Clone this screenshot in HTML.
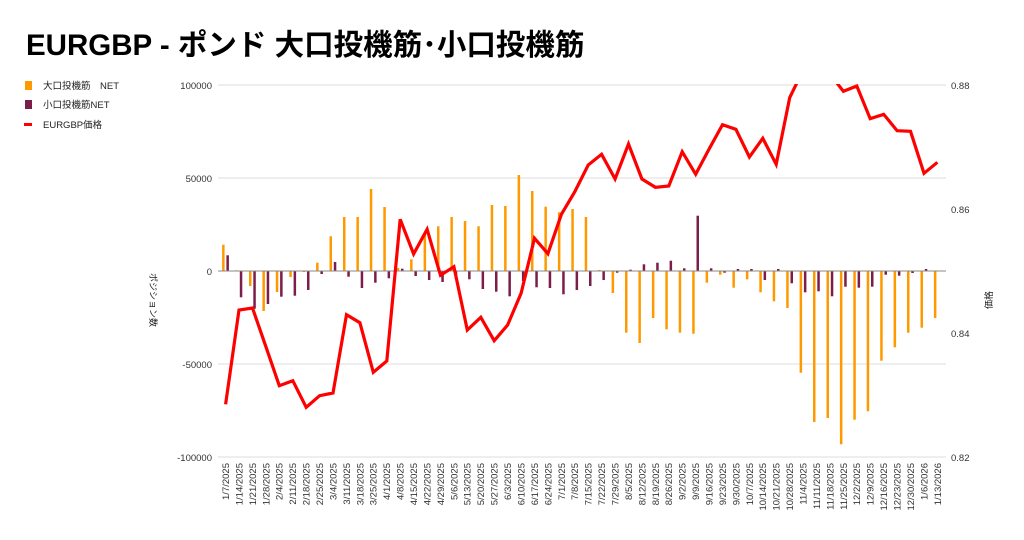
<!DOCTYPE html>
<html><head><meta charset="utf-8"><style>
html,body{margin:0;padding:0;background:#fff;}
svg{display:block;font-family:"Liberation Sans","Noto Sans CJK JP",sans-serif;}
</style></head><body>
<svg width="1024" height="540" viewBox="0 0 1024 540" xmlns="http://www.w3.org/2000/svg">
<rect width="1024" height="540" fill="#fff"/>
<text x="26" y="55" font-size="29.5" font-weight="bold" fill="#000">EURGBP - ポンド 大口投機筋･小口投機筋</text>
<!-- legend -->
<rect x="25" y="81" width="7" height="9" fill="#ff9900"/>
<text x="43" y="89" font-size="9.5" fill="#222">大口投機筋　NET</text>
<rect x="25" y="100" width="7" height="9" fill="#7b1f4a"/>
<text x="43" y="108" font-size="9.5" fill="#222">小口投機筋NET</text>
<rect x="24" y="123" width="8" height="3" fill="#ff0000"/>
<text x="43" y="128" font-size="9.5" fill="#222">EURGBP価格</text>
<!-- grid -->
<g stroke="#dcdcdc" stroke-width="1">
<line x1="218" y1="85" x2="946" y2="85"/>
<line x1="218" y1="178" x2="946" y2="178"/>
<line x1="218" y1="364" x2="946" y2="364"/>
<line x1="218" y1="457" x2="946" y2="457"/>
</g>
<g font-size="9.5" fill="#333" text-anchor="end">
<text x="212" y="89">100000</text>
<text x="212" y="182">50000</text>
<text x="212" y="275">0</text>
<text x="212" y="368">-50000</text>
<text x="212" y="461">-100000</text>
</g>
<g font-size="9.5" fill="#333">
<text x="951" y="89">0.88</text>
<text x="951" y="213">0.86</text>
<text x="951" y="337">0.84</text>
<text x="951" y="461">0.82</text>
</g>
<text transform="translate(150,300) rotate(90)" font-size="9" fill="#222" text-anchor="middle">ポジション数</text>
<text transform="translate(992,300) rotate(-90)" font-size="9" fill="#222" text-anchor="middle">価格</text>
<!-- orange bars -->
<g fill="#ff9900">
<rect x="222.1" y="244.7" width="2.5" height="26.3"/>
<rect x="235.5" y="270.3" width="2.5" height="0.7"/>
<rect x="249" y="271" width="2.5" height="15"/>
<rect x="262.4" y="271" width="2.5" height="40"/>
<rect x="275.8" y="271" width="2.5" height="21"/>
<rect x="289.3" y="271" width="2.5" height="6"/>
<rect x="302.7" y="271" width="2.5" height="1"/>
<rect x="316.1" y="262.7" width="2.5" height="8.3"/>
<rect x="329.5" y="236.3" width="2.5" height="34.7"/>
<rect x="343" y="217" width="2.5" height="54"/>
<rect x="356.4" y="217" width="2.5" height="54"/>
<rect x="369.8" y="189" width="2.5" height="82"/>
<rect x="383.3" y="207" width="2.5" height="64"/>
<rect x="396.7" y="268" width="2.5" height="3"/>
<rect x="410.1" y="259.3" width="2.5" height="11.7"/>
<rect x="423.6" y="235" width="2.5" height="36"/>
<rect x="437" y="226.3" width="2.5" height="44.7"/>
<rect x="450.4" y="217" width="2.5" height="54"/>
<rect x="463.8" y="221" width="2.5" height="50"/>
<rect x="477.3" y="226.3" width="2.5" height="44.7"/>
<rect x="490.7" y="205" width="2.5" height="66"/>
<rect x="504.1" y="206" width="2.5" height="65"/>
<rect x="517.6" y="175" width="2.5" height="96"/>
<rect x="531" y="191" width="2.5" height="80"/>
<rect x="544.4" y="206.7" width="2.5" height="64.3"/>
<rect x="557.9" y="212.3" width="2.5" height="58.7"/>
<rect x="571.3" y="209" width="2.5" height="62"/>
<rect x="584.7" y="217" width="2.5" height="54"/>
<rect x="598.1" y="270" width="2.5" height="1"/>
<rect x="611.6" y="271" width="2.5" height="22"/>
<rect x="625" y="271" width="2.5" height="61.7"/>
<rect x="638.4" y="271" width="2.5" height="72"/>
<rect x="651.9" y="271" width="2.5" height="47"/>
<rect x="665.3" y="271" width="2.5" height="58.3"/>
<rect x="678.7" y="271" width="2.5" height="61.7"/>
<rect x="692.2" y="271" width="2.5" height="62.7"/>
<rect x="705.6" y="271" width="2.5" height="11.7"/>
<rect x="719" y="271" width="2.5" height="3.7"/>
<rect x="732.4" y="271" width="2.5" height="16.7"/>
<rect x="745.9" y="271" width="2.5" height="8.3"/>
<rect x="759.3" y="271" width="2.5" height="21.3"/>
<rect x="772.7" y="271" width="2.5" height="30.3"/>
<rect x="786.2" y="271" width="2.5" height="37"/>
<rect x="799.6" y="271" width="2.5" height="101.7"/>
<rect x="813" y="271" width="2.5" height="151"/>
<rect x="826.5" y="271" width="2.5" height="147"/>
<rect x="839.9" y="271" width="2.5" height="173.3"/>
<rect x="853.3" y="271" width="2.5" height="148.7"/>
<rect x="866.7" y="271" width="2.5" height="140.3"/>
<rect x="880.2" y="271" width="2.5" height="89.7"/>
<rect x="893.6" y="271" width="2.5" height="76.3"/>
<rect x="907" y="271" width="2.5" height="61.7"/>
<rect x="920.5" y="271" width="2.5" height="56.7"/>
<rect x="933.9" y="271" width="2.5" height="47"/>
</g>
<!-- purple bars -->
<g fill="#7b1f4a">
<rect x="226.4" y="255.3" width="2.5" height="15.7"/>
<rect x="239.8" y="271" width="2.5" height="26.3"/>
<rect x="253.3" y="271" width="2.5" height="37.7"/>
<rect x="266.7" y="271" width="2.5" height="33"/>
<rect x="280.1" y="271" width="2.5" height="25.7"/>
<rect x="293.6" y="271" width="2.5" height="24.7"/>
<rect x="307" y="271" width="2.5" height="19"/>
<rect x="320.4" y="271" width="2.5" height="3"/>
<rect x="333.8" y="262" width="2.5" height="9"/>
<rect x="347.3" y="271" width="2.5" height="5.7"/>
<rect x="360.7" y="271" width="2.5" height="17"/>
<rect x="374.1" y="271" width="2.5" height="11.7"/>
<rect x="387.6" y="271" width="2.5" height="7.3"/>
<rect x="401" y="268.7" width="2.5" height="2.3"/>
<rect x="414.4" y="271" width="2.5" height="5"/>
<rect x="427.9" y="271" width="2.5" height="9"/>
<rect x="441.3" y="271" width="2.5" height="11"/>
<rect x="454.7" y="271" width="2.5" height="8"/>
<rect x="468.1" y="271" width="2.5" height="8.3"/>
<rect x="481.6" y="271" width="2.5" height="18"/>
<rect x="495" y="271" width="2.5" height="20.7"/>
<rect x="508.4" y="271" width="2.5" height="25.3"/>
<rect x="521.9" y="271" width="2.5" height="10"/>
<rect x="535.3" y="271" width="2.5" height="16.3"/>
<rect x="548.7" y="271" width="2.5" height="17"/>
<rect x="562.2" y="271" width="2.5" height="23.3"/>
<rect x="575.6" y="271" width="2.5" height="19"/>
<rect x="589" y="271" width="2.5" height="15"/>
<rect x="602.4" y="271" width="2.5" height="9"/>
<rect x="615.9" y="271" width="2.5" height="1.7"/>
<rect x="629.3" y="269.7" width="2.5" height="1.3"/>
<rect x="642.7" y="264.3" width="2.5" height="6.7"/>
<rect x="656.2" y="262.7" width="2.5" height="8.3"/>
<rect x="669.6" y="260.7" width="2.5" height="10.3"/>
<rect x="683" y="268.3" width="2.5" height="2.7"/>
<rect x="696.5" y="215.7" width="2.5" height="55.3"/>
<rect x="709.9" y="268.3" width="2.5" height="2.7"/>
<rect x="723.3" y="271" width="2.5" height="1.7"/>
<rect x="736.7" y="269" width="2.5" height="2"/>
<rect x="750.2" y="269" width="2.5" height="2"/>
<rect x="763.6" y="271" width="2.5" height="9"/>
<rect x="777" y="269" width="2.5" height="2"/>
<rect x="790.5" y="271" width="2.5" height="12.3"/>
<rect x="803.9" y="271" width="2.5" height="21.3"/>
<rect x="817.3" y="271" width="2.5" height="20.3"/>
<rect x="830.8" y="271" width="2.5" height="25.3"/>
<rect x="844.2" y="271" width="2.5" height="15.7"/>
<rect x="857.6" y="271" width="2.5" height="16.7"/>
<rect x="871" y="271" width="2.5" height="15.7"/>
<rect x="884.5" y="271" width="2.5" height="3.7"/>
<rect x="897.9" y="271" width="2.5" height="4.7"/>
<rect x="911.3" y="271" width="2.5" height="2"/>
<rect x="924.8" y="269" width="2.5" height="2"/>
</g>
<line x1="218" y1="271" x2="946" y2="271" stroke="#888" stroke-width="1"/>
<defs><clipPath id="c"><rect x="210" y="84" width="745" height="380"/></clipPath></defs>
<polyline clip-path="url(#c)" fill="none" stroke="#ff0000" stroke-width="3.2" stroke-linejoin="miter" points="225.6,404.3 239,310 252.5,308 265.9,346.7 279.3,385.7 292.8,380.7 306.2,407.3 319.6,395.7 333,393 346.5,314.7 359.9,322.7 373.3,372.3 386.8,361 400.2,219.3 413.6,254 427.1,229.3 440.5,275.3 453.9,266.7 467.3,330 480.8,317.3 494.2,340.7 507.6,325 521.1,293.3 534.5,238.3 547.9,253.7 561.4,214.3 574.8,191.7 588.2,165 601.6,154.3 615.1,179 628.5,144 641.9,179 655.4,187.3 668.8,186 682.2,151.7 695.7,174.3 709.1,149 722.5,124.7 735.9,129.3 749.4,157 762.8,138.3 776.2,164.3 789.7,97.7 803.1,70 816.5,66 830,74 843.4,91.3 856.8,86 870.2,118.7 883.7,114.3 897.1,130.7 910.5,131.3 924,173.3 937.4,162.3"/>
<!-- x labels -->
<g font-size="9.5" fill="#333" text-anchor="end">
<text transform="translate(229,463) rotate(-90)">1/7/2025</text>
<text transform="translate(242.4,463) rotate(-90)">1/14/2025</text>
<text transform="translate(255.9,463) rotate(-90)">1/21/2025</text>
<text transform="translate(269.3,463) rotate(-90)">1/28/2025</text>
<text transform="translate(282.7,463) rotate(-90)">2/4/2025</text>
<text transform="translate(296.2,463) rotate(-90)">2/11/2025</text>
<text transform="translate(309.6,463) rotate(-90)">2/18/2025</text>
<text transform="translate(323,463) rotate(-90)">2/25/2025</text>
<text transform="translate(336.4,463) rotate(-90)">3/4/2025</text>
<text transform="translate(349.9,463) rotate(-90)">3/11/2025</text>
<text transform="translate(363.3,463) rotate(-90)">3/18/2025</text>
<text transform="translate(376.7,463) rotate(-90)">3/25/2025</text>
<text transform="translate(390.2,463) rotate(-90)">4/1/2025</text>
<text transform="translate(403.6,463) rotate(-90)">4/8/2025</text>
<text transform="translate(417,463) rotate(-90)">4/15/2025</text>
<text transform="translate(430.5,463) rotate(-90)">4/22/2025</text>
<text transform="translate(443.9,463) rotate(-90)">4/29/2025</text>
<text transform="translate(457.3,463) rotate(-90)">5/6/2025</text>
<text transform="translate(470.7,463) rotate(-90)">5/13/2025</text>
<text transform="translate(484.2,463) rotate(-90)">5/20/2025</text>
<text transform="translate(497.6,463) rotate(-90)">5/27/2025</text>
<text transform="translate(511,463) rotate(-90)">6/3/2025</text>
<text transform="translate(524.5,463) rotate(-90)">6/10/2025</text>
<text transform="translate(537.9,463) rotate(-90)">6/17/2025</text>
<text transform="translate(551.3,463) rotate(-90)">6/24/2025</text>
<text transform="translate(564.8,463) rotate(-90)">7/1/2025</text>
<text transform="translate(578.2,463) rotate(-90)">7/8/2025</text>
<text transform="translate(591.6,463) rotate(-90)">7/15/2025</text>
<text transform="translate(605,463) rotate(-90)">7/22/2025</text>
<text transform="translate(618.5,463) rotate(-90)">7/29/2025</text>
<text transform="translate(631.9,463) rotate(-90)">8/5/2025</text>
<text transform="translate(645.3,463) rotate(-90)">8/12/2025</text>
<text transform="translate(658.8,463) rotate(-90)">8/19/2025</text>
<text transform="translate(672.2,463) rotate(-90)">8/26/2025</text>
<text transform="translate(685.6,463) rotate(-90)">9/2/2025</text>
<text transform="translate(699.1,463) rotate(-90)">9/9/2025</text>
<text transform="translate(712.5,463) rotate(-90)">9/16/2025</text>
<text transform="translate(725.9,463) rotate(-90)">9/23/2025</text>
<text transform="translate(739.3,463) rotate(-90)">9/30/2025</text>
<text transform="translate(752.8,463) rotate(-90)">10/7/2025</text>
<text transform="translate(766.2,463) rotate(-90)">10/14/2025</text>
<text transform="translate(779.6,463) rotate(-90)">10/21/2025</text>
<text transform="translate(793.1,463) rotate(-90)">10/28/2025</text>
<text transform="translate(806.5,463) rotate(-90)">11/4/2025</text>
<text transform="translate(819.9,463) rotate(-90)">11/11/2025</text>
<text transform="translate(833.4,463) rotate(-90)">11/18/2025</text>
<text transform="translate(846.8,463) rotate(-90)">11/25/2025</text>
<text transform="translate(860.2,463) rotate(-90)">12/2/2025</text>
<text transform="translate(873.6,463) rotate(-90)">12/9/2025</text>
<text transform="translate(887.1,463) rotate(-90)">12/16/2025</text>
<text transform="translate(900.5,463) rotate(-90)">12/23/2025</text>
<text transform="translate(913.9,463) rotate(-90)">12/30/2025</text>
<text transform="translate(927.4,463) rotate(-90)">1/6/2026</text>
<text transform="translate(940.8,463) rotate(-90)">1/13/2026</text>
</g>
</svg>
</body></html>
